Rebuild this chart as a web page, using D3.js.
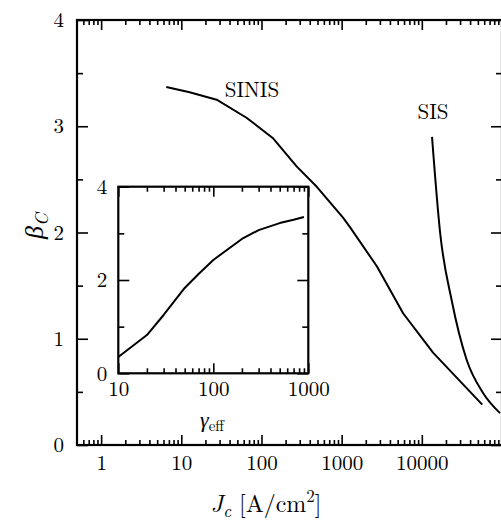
<!DOCTYPE html>
<html>
<head>
<meta charset="utf-8">
<script src="https://cdn.jsdelivr.net/npm/d3@7"></script>
<style>
  html, body { margin: 0; padding: 0; background: #fff; }
  svg { display: block; }
</style>
</head>
<body>
<script>
// Critical current density (A/cm^2) vs. Stewart-McCumber parameter
const sinisJc   = [6.5, 12.7, 27.6, 65, 138, 276, 490, 1040, 1270, 2760, 5840, 13800, 56700];
const sinisBeta = [3.37, 3.32, 3.25, 3.08, 2.89, 2.62, 2.43, 2.14, 2.05, 1.68, 1.24, 0.87, 0.38];

const sisJc   = [13400, 16900, 23600, 36300, 58000, 94500];
const sisBeta = [2.90, 2.00, 1.36, 0.80, 0.49, 0.30];

// Inset: beta_C vs. effective damping gamma_eff
const gammaEff  = [10, 20, 30, 50, 70, 100, 200, 300, 500, 700, 900];
const gammaBeta = [0.35, 0.82, 1.25, 1.83, 2.13, 2.43, 2.88, 3.07, 3.22, 3.29, 3.35];

const mainXMajor = [1, 10, 100, 1000, 10000];
const mainYMajor = [0, 1, 2, 3, 4];
const mainYMinor = [0.5, 1.5, 2.5, 3.5];
const insetXMajor = [10, 100, 1000];
const insetYMajor = [0, 2, 4];
const insetYMinor = [1, 3];

const FONT = '"Latin Modern Roman", "CMU Serif", "Liberation Serif", serif';
const W = 501, H = 521;
const svg = d3.select("body").append("svg").attr("width", W).attr("height", H);

// Main panel
const L = 77, R = 502, T = 20, B = 445;
const x = d3.scaleLog().domain([0.5, 1e5]).range([L, R]);
const y = d3.scaleLinear().domain([0, 4]).range([B, T]);

function logMinors(lo, hi) {
  const out = [];
  for (let e = Math.floor(Math.log10(lo)); e < Math.ceil(Math.log10(hi)); e++) {
    for (let m = 2; m <= 9; m++) {
      const v = m * Math.pow(10, e);
      if (v > lo && v < hi) out.push(v);
    }
  }
  return out;
}
const mainXMinor = logMinors(0.5, 1e5);
const insetXMinor = logMinors(10, 1000);

function styleAxis(size) {
  return g => {
    g.select(".domain").remove();
    g.attr("font-family", null);
    g.selectAll(".tick line").attr("stroke", "#000").attr("stroke-width", 1.6);
    g.selectAll(".tick text").style("font-family", FONT).style("font-size", (size || 21) + "px").attr("fill", "#000");
  };
}

const fmt = d3.format("d");

function addAxis(axis, tx, ty, size) {
  svg.append("g").attr("transform", `translate(${tx},${ty})`).call(axis).call(styleAxis(size));
}

// main frame ticks
addAxis(d3.axisBottom(x).tickValues(mainXMajor).tickSize(-10).tickPadding(10).tickFormat(fmt), 0, B, 21);
addAxis(d3.axisBottom(x).tickValues(mainXMinor).tickSize(-5).tickFormat(""), 0, B);
addAxis(d3.axisTop(x).tickValues(mainXMajor).tickSize(-10).tickFormat(""), 0, T);
addAxis(d3.axisTop(x).tickValues(mainXMinor).tickSize(-5).tickFormat(""), 0, T);
addAxis(d3.axisLeft(y).tickValues(mainYMajor).tickSize(-11).tickPadding(13).tickFormat(fmt), L, 0, 21);
addAxis(d3.axisLeft(y).tickValues(mainYMinor).tickSize(-6).tickFormat(""), L, 0);
addAxis(d3.axisRight(y).tickValues(mainYMajor).tickSize(-11).tickFormat(""), R, 0);
addAxis(d3.axisRight(y).tickValues(mainYMinor).tickSize(-6).tickFormat(""), R, 0);

svg.append("rect").attr("x", L).attr("y", T).attr("width", R - L).attr("height", B - T)
  .attr("fill", "none").attr("stroke", "#000").attr("stroke-width", 2.2);

svg.append("clipPath").attr("id", "plotClip")
  .append("rect").attr("x", L).attr("y", T).attr("width", R - L).attr("height", B - T);

const sinisLine = d3.line().x(d => x(d[0])).y(d => y(d[1])).curve(d3.curveLinear);
const sisLine = d3.line().x(d => x(d[0])).y(d => y(d[1])).curve(d3.curveMonotoneX);

svg.append("path").datum(d3.zip(sinisJc, sinisBeta))
  .attr("clip-path", "url(#plotClip)")
  .attr("d", sinisLine).attr("fill", "none").attr("stroke", "#000").attr("stroke-width", 2)
  .attr("stroke-linejoin", "round");
svg.append("path").datum(d3.zip(sisJc, sisBeta))
  .attr("clip-path", "url(#plotClip)")
  .attr("d", sisLine).attr("fill", "none").attr("stroke", "#000").attr("stroke-width", 2);

function label(xp, yp, size, anchor) {
  return svg.append("text").attr("x", xp).attr("y", yp).attr("text-anchor", anchor || "middle")
    .style("font-family", FONT).style("font-size", size + "px").attr("fill", "#000");
}

label(252, 97, 21).text("SINIS");
label(433, 119, 21).text("SIS");

// axis titles
const xt = label(266, 512, 24);
xt.append("tspan").attr("font-style", "italic").text("J");
xt.append("tspan").attr("font-style", "italic").style("font-size", "17px").attr("dy", 5).text("c");
xt.append("tspan").attr("dy", -5).text(" [A/cm");
xt.append("tspan").style("font-size", "17px").attr("dy", -10).text("2");
xt.append("tspan").attr("dy", 10).text("]");

const yt = svg.append("text").attr("transform", "translate(43,226) rotate(-90)")
  .attr("text-anchor", "middle").style("font-family", FONT).style("font-size", "26px");
yt.append("tspan").attr("font-style", "italic").text("β");
yt.append("tspan").attr("font-style", "italic").style("font-size", "18px").attr("dy", 5).text("C");

// Inset panel
const iL = 118.3, iR = 308.3, iT = 186.7, iB = 373.3;
const ix = d3.scaleLog().domain([10, 1000]).range([iL, iR]);
const iy = d3.scaleLinear().domain([0, 4]).range([iB, iT]);

svg.append("rect").attr("x", iL).attr("y", iT).attr("width", iR - iL).attr("height", iB - iT)
  .attr("fill", "#fff");

addAxis(d3.axisBottom(ix).tickValues(insetXMajor).tickSize(-10).tickPadding(8).tickFormat(fmt), 0, iB, 21);
addAxis(d3.axisBottom(ix).tickValues(insetXMinor).tickSize(-5).tickFormat(""), 0, iB);
addAxis(d3.axisTop(ix).tickValues(insetXMajor).tickSize(-10).tickFormat(""), 0, iT);
addAxis(d3.axisTop(ix).tickValues(insetXMinor).tickSize(-5).tickFormat(""), 0, iT);
addAxis(d3.axisLeft(iy).tickValues(insetYMajor).tickSize(-11).tickPadding(11).tickFormat(fmt), iL, 0, 21);
addAxis(d3.axisLeft(iy).tickValues(insetYMinor).tickSize(-6).tickFormat(""), iL, 0);
addAxis(d3.axisRight(iy).tickValues(insetYMajor).tickSize(-11).tickFormat(""), iR, 0);
addAxis(d3.axisRight(iy).tickValues(insetYMinor).tickSize(-6).tickFormat(""), iR, 0);

svg.append("rect").attr("x", iL).attr("y", iT).attr("width", iR - iL).attr("height", iB - iT)
  .attr("fill", "none").attr("stroke", "#000").attr("stroke-width", 2.2);

const insetLine = d3.line().x(d => ix(d[0])).y(d => iy(d[1])).curve(d3.curveLinear);
svg.append("path").datum(d3.zip(gammaEff, gammaBeta))
  .attr("d", insetLine).attr("fill", "none").attr("stroke", "#000").attr("stroke-width", 2)
  .attr("stroke-linejoin", "round");

const gt = label(212, 427, 22);
gt.append("tspan").attr("font-style", "italic").text("γ");
gt.append("tspan").style("font-size", "15px").attr("dy", 4).text("eff");
</script>
</body>
</html>
